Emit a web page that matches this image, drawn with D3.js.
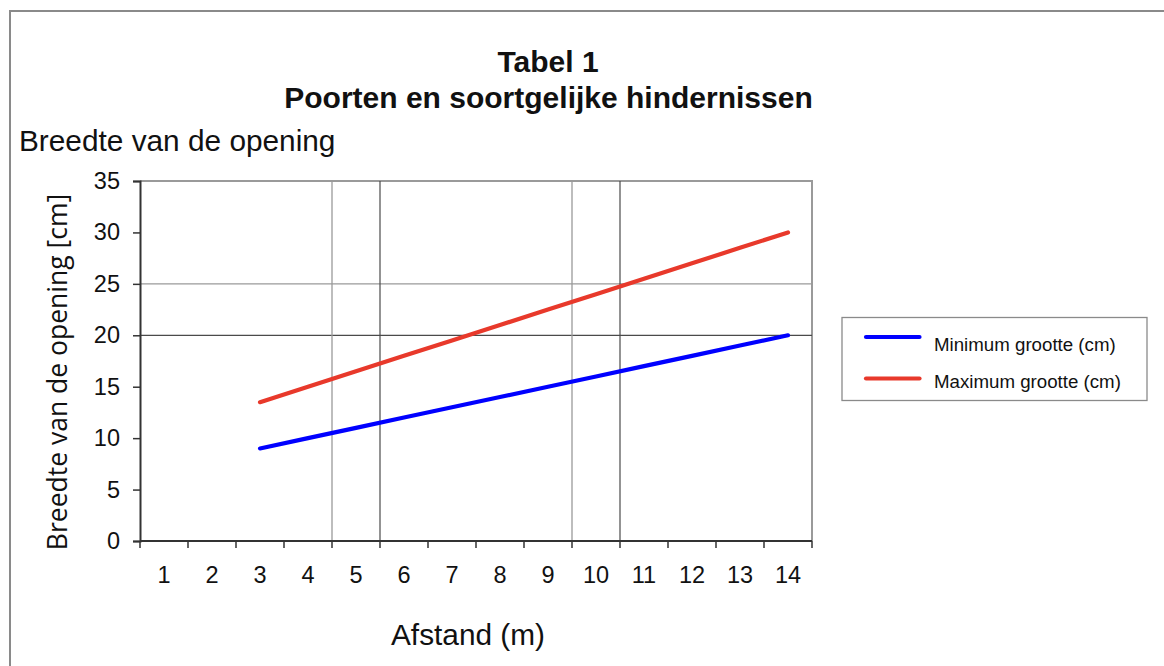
<!DOCTYPE html>
<html><head><meta charset="utf-8">
<script src="https://cdn.jsdelivr.net/npm/d3@7"></script>
<style>
html,body{margin:0;padding:0;background:#fff;}
svg{display:block;}
text{font-family:"Liberation Sans",Arial,Helvetica,sans-serif;fill:#111;}
</style></head>
<body>
<svg id="c" width="1164" height="666"></svg>
<script>
const categories = [1,2,3,4,5,6,7,8,9,10,11,12,13,14];
const minimumGrootte = [null,null,9,10,11,12,13,14,15,16,17,18,19,20];
const maximumGrootte = [null,null,13.5,15,16.5,18,19.5,21,22.5,24,25.5,27,28.5,30];
const yTicks = [0,5,10,15,20,25,30,35];
const seriesNames = ["Minimum grootte (cm)","Maximum grootte (cm)"];
const seriesColors = ["#0000ff","#e8392b"];
const vGridLight = [5,10];   // left edge of these categories
const vGridDark = [6,11];
const hGridLight = [25];
const hGridDark = [20];

const svg = d3.select("#c");
const L = 140, R = 812, T = 181, B = 541;

// outer frame
svg.append("path").attr("d","M10,700 V11 H1170").attr("fill","none").attr("stroke","#8a8a8a").attr("stroke-width",2);

const x = d3.scaleBand().domain(categories).range([L,R]).paddingInner(0).paddingOuter(0);
const y = d3.scaleLinear().domain([0,35]).range([B,T]);
const cx = c => x(c) + x.bandwidth()/2;

// plot border (top/right)
svg.append("path").attr("d",`M${L},${y(35)} H${R} V${B}`).attr("fill","none").attr("stroke","#9a9a9a").attr("stroke-width",2);

// gridlines
const g = svg.append("g");
g.selectAll(".hl").data(hGridLight).join("line").attr("x1",L).attr("x2",R).attr("y1",d=>y(d)).attr("y2",d=>y(d)).attr("stroke","#9a9a9a").attr("stroke-width",1.3);
g.selectAll(".hd").data(hGridDark).join("line").attr("x1",L).attr("x2",R).attr("y1",d=>y(d)).attr("y2",d=>y(d)).attr("stroke","#4a4a4a").attr("stroke-width",1.2);
g.selectAll(".vl").data(vGridLight).join("line").attr("x1",d=>x(d)).attr("x2",d=>x(d)).attr("y1",T).attr("y2",B).attr("stroke","#9a9a9a").attr("stroke-width",1.3);
g.selectAll(".vd").data(vGridDark).join("line").attr("x1",d=>x(d)).attr("x2",d=>x(d)).attr("y1",T).attr("y2",B).attr("stroke","#4a4a4a").attr("stroke-width",1.2);

// y axis
const ya = svg.append("g").attr("transform",`translate(${L},0)`)
  .call(d3.axisLeft(y).tickValues(yTicks).tickSize(7).tickPadding(13));
ya.select(".domain").attr("stroke","#333").attr("stroke-width",2);
ya.selectAll(".tick line").attr("stroke","#333").attr("stroke-width",1.5);
ya.selectAll(".tick text").style("font-family","'Liberation Sans',Arial,sans-serif").style("font-size","23.5px").attr("fill","#111");

// x axis: labels centered, ticks at band edges
const xa = svg.append("g").attr("transform",`translate(0,${B})`)
  .call(d3.axisBottom(x).tickSize(0).tickPadding(25));
xa.select(".domain").attr("stroke","#333").attr("stroke-width",2).attr("d",`M${L},0H${R}`);
xa.selectAll(".tick text").style("font-family","'Liberation Sans',Arial,sans-serif").style("font-size","23.5px").attr("fill","#111");
const edges = categories.map(c=>x(c)).concat([R]);
xa.selectAll(".edge").data(edges).join("line").attr("class","edge")
  .attr("x1",d=>d).attr("x2",d=>d).attr("y1",0).attr("y2",7).attr("stroke","#333").attr("stroke-width",1.5);

// lines
const line = d3.line().defined(d=>d.v!==null).x(d=>cx(d.c)).y(d=>y(d.v));
[minimumGrootte,maximumGrootte].forEach((arr,i)=>{
  svg.append("path").datum(categories.map((c,j)=>({c,v:arr[j]})))
    .attr("d",line).attr("fill","none").attr("stroke",seriesColors[i]).attr("stroke-width",4.2).attr("stroke-linecap","round");
});

// titles
svg.append("text").attr("x",548).attr("y",72).attr("text-anchor","middle").style("font-weight","bold").style("font-size","30px").text("Tabel 1");
svg.append("text").attr("x",548.5).attr("y",108).attr("text-anchor","middle").style("font-weight","bold").style("font-size","30px").text("Poorten en soortgelijke hindernissen");
svg.append("text").attr("x",19).attr("y",151).style("font-size","29.8px").text("Breedte van de opening");

// axis titles
svg.append("text").attr("x",468).attr("y",645).attr("text-anchor","middle").style("font-size","29.8px").text("Afstand (m)");
svg.append("text").attr("transform","translate(67,372) rotate(-90)").attr("text-anchor","middle")
  .style("font-family","'Open Sans',sans-serif").style("font-size","26.5px").text("Breedte van de opening [cm]");

// legend
svg.append("rect").attr("x",842).attr("y",317.5).attr("width",305).attr("height",83).attr("fill","#fff").attr("stroke","#8a8a8a").attr("stroke-width",1.3);
const ly = [337,378.5];
seriesNames.forEach((n,i)=>{
  svg.append("line").attr("x1",866).attr("x2",919.5).attr("y1",ly[i]).attr("y2",ly[i]).attr("stroke",seriesColors[i]).attr("stroke-width",4.2).attr("stroke-linecap","round");
  svg.append("text").attr("x",934).attr("y",[351,388][i]).style("font-size","18.7px").text(n);
});
</script>
</body></html>
